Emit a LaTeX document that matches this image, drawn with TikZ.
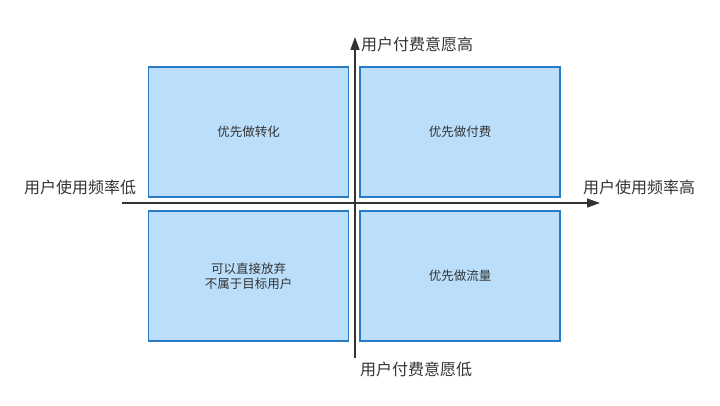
\documentclass[tikz,border=0pt]{standalone}
\usepackage{fontspec}
\setmainfont{Noto Sans CJK SC}
\usetikzlibrary{positioning,arrows.meta}
\definecolor{quadfill}{HTML}{BBDEFA}
\definecolor{quadline}{HTML}{2B7BC4}
\definecolor{axisgray}{HTML}{333333}
\begin{document}
\begin{tikzpicture}[x=1pt,y=-1pt, every node/.style={text=axisgray}]
	\useasboundingbox (0,0) rectangle (720,406);
	\tikzset{quad/.style={draw=quadline, fill=quadfill, line width=1.2pt, minimum width=200pt, minimum height=130pt, inner sep=0pt, font=\fontsize{12.5}{15}\selectfont, align=center},
		axislbl/.style={font=\fontsize{16}{18}\selectfont, inner sep=0pt}}
	\node[quad] (conv) at (248.5,132) {优先做转化}; % upper left
	\node[quad] (pay) at (460,132) {优先做付费};
	\node[quad] (drop) at (248.5,276) {可以直接放弃\\不属于目标用户};
	\node[quad] (flow) at (460,276) {优先做流量};
	\coordinate (xl) at (122,203); \coordinate (xr) at (600,203);
	\coordinate (yb) at (355,358); \coordinate (yt) at (355,37);
	\draw[axisgray, line width=1.4pt, -{Triangle[length=13pt,width=9pt]}] (xl) -- (xr);
	\draw[axisgray, line width=1.4pt, -{Triangle[length=13pt,width=9pt]}] (yb) -- (yt);
	\node[axislbl] (xlow) at (80,187.5) {用户使用频率低};
	\node[axislbl] (xhigh) at (639,187) {用户使用频率高};
	\node[axislbl] (yhigh) at (417,44) {用户付费意愿高};
	\node[axislbl] (ylow) at (416,369) {用户付费意愿低};
\end{tikzpicture}
\end{document}
